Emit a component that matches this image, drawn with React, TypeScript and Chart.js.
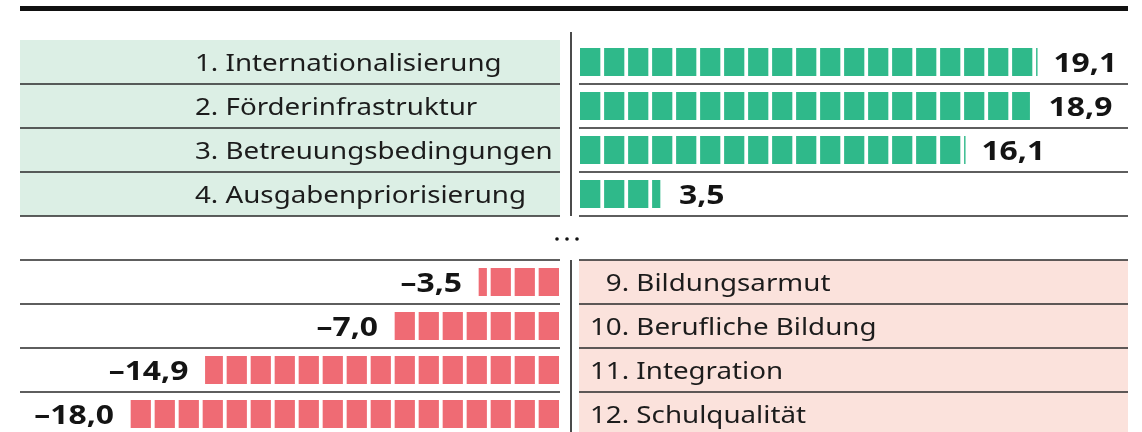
import React, { useEffect, useRef } from "react";
import { Chart, registerables } from "chart.js";

Chart.register(...registerables);

// ---- data ----
const topLabels = [
  "1. Internationalisierung",
  "2. Förderinfrastruktur",
  "3. Betreuungsbedingungen",
  "4. Ausgabenpriorisierung",
];
const topValues = [19.1, 18.9, 16.1, 3.5];
const bottomLabels = [
  "9. Bildungsarmut",
  "10. Berufliche Bildung",
  "11. Integration",
  "12. Schulqualität",
];
const bottomValues = [-3.5, -7.0, -14.9, -18.0];
const gapLabel = "…";

// ---- style / layout ----
const W = 1142;
const H = 440;
const POS_ZERO = 580;
const NEG_ZERO = 559;
const UNIT = 24;
const SX = 1.18;
const GREEN = "#2fb98a";
const RED = "#ef6b74";
const GREEN_BG = "#dcefe5";
const PINK_BG = "#fbe2dc";
const LINE = "#2a2a2a";
const TEXT = "#1c1c1c";
const LEFT = 20;
const RIGHT = 1128;
const LEFT_END = 560;
const RIGHT_START = 579;
const CENTER_X = 571;

const categories = [...topLabels, gapLabel, ...bottomLabels];
const nTop = topLabels.length;
const gapIndex = nTop;
const bottomStart = nTop + 1;

function fmt(v: number) {
  const s = Math.abs(v).toFixed(1).replace(".", ",");
  return v < 0 ? "\u2013" + s : s;
}

function drawText(
  ctx: CanvasRenderingContext2D,
  text: string,
  x: number,
  y: number,
  align: CanvasTextAlign,
  font: string,
  color: string
) {
  ctx.save();
  ctx.font = font;
  ctx.fillStyle = color;
  ctx.textAlign = align;
  ctx.textBaseline = "alphabetic";
  ctx.translate(x, y);
  ctx.scale(SX, 1);
  ctx.fillText(text, 0, 0);
  ctx.restore();
}

function buildDatasets() {
  const ds: any[] = [];
  const maxPos = Math.ceil(Math.max(...topValues));
  for (let k = 0; k < maxPos; k++) {
    const data = categories.map((_, i) => {
      if (i >= nTop) return null;
      const r = topValues[i] - k;
      return r > 0 ? Math.min(1, r) : null;
    });
    ds.push({
      xAxisID: "xPos",
      data,
      backgroundColor: GREEN,
      borderColor: "#ffffff",
      borderWidth: { left: 0, right: 4, top: 0, bottom: 0 },
      borderSkipped: false,
      barThickness: 28,
    });
  }
  const maxNeg = Math.ceil(Math.max(...bottomValues.map((v) => -v)));
  for (let k = 0; k < maxNeg; k++) {
    const data = categories.map((_, i) => {
      if (i < bottomStart) return null;
      const r = -bottomValues[i - bottomStart] - k;
      return r > 0 ? -Math.min(1, r) : null;
    });
    ds.push({
      xAxisID: "xNeg",
      data,
      backgroundColor: RED,
      borderColor: "#ffffff",
      borderWidth: { left: 4, right: 0, top: 0, bottom: 0 },
      borderSkipped: false,
      barThickness: 28,
    });
  }
  return ds;
}

const decor = {
  id: "decor",
  beforeDatasetsDraw(chart: any) {
    const ctx: CanvasRenderingContext2D = chart.ctx;
    const y = chart.scales.y;
    const half = (y.getPixelForValue(1) - y.getPixelForValue(0)) / 2;
    ctx.save();
    // top rule
    ctx.fillStyle = "#111";
    ctx.fillRect(LEFT, 6, RIGHT - LEFT, 5);
    // backgrounds
    for (let i = 0; i < nTop; i++) {
      const c = y.getPixelForValue(i);
      ctx.fillStyle = GREEN_BG;
      ctx.fillRect(LEFT, c - half, LEFT_END - LEFT, half * 2);
    }
    for (let j = 0; j < bottomLabels.length; j++) {
      const c = y.getPixelForValue(bottomStart + j);
      ctx.fillStyle = PINK_BG;
      ctx.fillRect(RIGHT_START, c - half, RIGHT - RIGHT_START, half * 2);
    }
    // row lines
    ctx.strokeStyle = LINE;
    ctx.lineWidth = 1.5;
    const hline = (yy: number) => {
      ctx.beginPath();
      ctx.moveTo(LEFT, yy);
      ctx.lineTo(LEFT_END, yy);
      ctx.moveTo(RIGHT_START, yy);
      ctx.lineTo(RIGHT, yy);
      ctx.stroke();
    };
    for (let i = 0; i < nTop; i++) hline(y.getPixelForValue(i) + half);
    for (let j = 0; j < bottomLabels.length; j++)
      hline(y.getPixelForValue(bottomStart + j) - half);
    // center line
    ctx.strokeStyle = "#111";
    ctx.lineWidth = 1.5;
    ctx.beginPath();
    ctx.moveTo(CENTER_X, 32);
    ctx.lineTo(CENTER_X, y.getPixelForValue(nTop - 1) + half);
    ctx.moveTo(CENTER_X, y.getPixelForValue(bottomStart) - half);
    ctx.lineTo(CENTER_X, H);
    ctx.stroke();
    // gap dots
    const gy = y.getPixelForValue(gapIndex) + 1;
    ctx.fillStyle = "#111";
    for (let d = -1; d <= 1; d++) {
      ctx.beginPath();
      ctx.arc(567 + d * 10, gy, 1.8, 0, Math.PI * 2);
      ctx.fill();
    }
    ctx.restore();
  },
  afterDatasetsDraw(chart: any) {
    const ctx: CanvasRenderingContext2D = chart.ctx;
    const y = chart.scales.y;
    const xPos = chart.scales.xPos;
    const xNeg = chart.scales.xNeg;
    const labelFont = '23.5px "Noto Sans"';
    const valueFont = 'bold 27px "Noto Sans"';
    for (let i = 0; i < nTop; i++) {
      const c = y.getPixelForValue(i);
      drawText(ctx, topLabels[i], 195, c + 9, "left", labelFont, TEXT);
      drawText(ctx, fmt(topValues[i]), xPos.getPixelForValue(topValues[i]) + 15, c + 9.5, "left", valueFont, "#141414");
    }
    for (let j = 0; j < bottomLabels.length; j++) {
      const c = y.getPixelForValue(bottomStart + j);
      const lab = bottomLabels[j];
      const sp = lab.indexOf(" ");
      const padded = lab.slice(0, sp).padStart(3, "\u2007") + lab.slice(sp);
      drawText(ctx, padded, 590, c + 9, "left", labelFont, TEXT);
      drawText(ctx, fmt(bottomValues[j]), xNeg.getPixelForValue(bottomValues[j]) - 13, c + 9.5, "right", valueFont, "#141414");
    }
  },
};

export default function App() {
  const ref = useRef<HTMLCanvasElement>(null);
  useEffect(() => {
    const canvas = ref.current;
    if (!canvas) return;
    const chart = new Chart(canvas, {
      type: "bar",
      data: { labels: categories, datasets: buildDatasets() },
      options: {
        indexAxis: "y",
        animation: false,
        responsive: true,
        maintainAspectRatio: false,
        layout: { padding: { top: 40, bottom: 4, left: 0, right: 0 } },
        plugins: { legend: { display: false }, tooltip: { enabled: false } },
        scales: {
          y: { type: "category", display: false, stacked: true, offset: true },
          xPos: {
            type: "linear",
            axis: "x",
            position: "bottom",
            display: false,
            stacked: true,
            min: -POS_ZERO / UNIT,
            max: (W - POS_ZERO) / UNIT,
          },
          xNeg: {
            type: "linear",
            axis: "x",
            position: "bottom",
            display: false,
            stacked: true,
            min: -NEG_ZERO / UNIT,
            max: (W - NEG_ZERO) / UNIT,
          },
        },
      } as any,
      plugins: [decor],
    });
    return () => chart.destroy();
  }, []);
  return (
    <div
      style={{
        position: "fixed",
        left: 0,
        top: 0,
        width: W,
        height: 432,
        overflow: "hidden",
        background: "#fff",
      }}
    >
      <div style={{ position: "relative", width: W, height: H }}>
        <canvas ref={ref} />
      </div>
    </div>
  );
}
